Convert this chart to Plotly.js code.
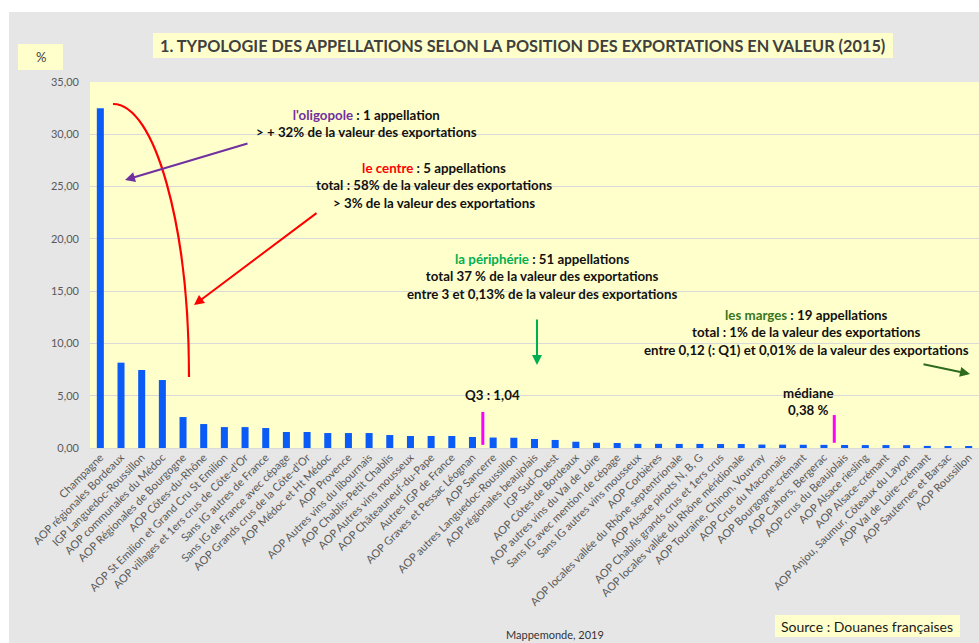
<!DOCTYPE html>
<html>
<head>
<meta charset="utf-8">
<script src="https://cdn.plot.ly/plotly-3.0.1.min.js"></script>
<style>
html,body{margin:0;padding:0;background:#ffffff;overflow:hidden;}
#chart{position:absolute;left:9px;top:12px;width:970px;height:631px;}
</style>
</head>
<body>
<div id="chart"></div>
<script>
// ---- data ----
const categories = [
  "Champagne",
  "AOP régionales Bordeaux",
  "IGP Languedoc-Roussillon",
  "AOP communales du Médoc",
  "AOP Régionales de Bourgogne",
  "AOP Côtes-du-Rhône",
  "AOP St Emilion et Grand Cru St Emilion",
  "AOP villages et 1ers crus de Côte-d'Or",
  "Sans IG autres de France",
  "Sans IG de France avec cépage",
  "AOP Grands crus de la Côte-d'Or",
  "AOP Médoc et Ht Médoc",
  "AOP Provence",
  "AOP Autres vins du libournais",
  "AOP Chablis-Petit Chablis",
  "AOP Autres vins mousseux",
  "AOP Châteauneuf-du-Pape",
  "Autres IGP de France",
  "AOP Graves et Pessac Léognan",
  "AOP Sancerre",
  "AOP autres Languedoc-Roussillon",
  "AOP régionales beaujolais",
  "IGP Sud-Ouest",
  "AOP Côtes de Bordeaux",
  "AOP autres vins du Val de Loire",
  "Sans IG avec mention de cépage",
  "Sans IG autres vins mousseux",
  "AOP Corbières",
  "AOP locales vallée du Rhône septentrionale",
  "AOP Alsace pinots N, B, G",
  "AOP Chablis grands crus et 1ers crus",
  "AOP locales vallée du Rhône méridionale",
  "AOP Touraine, Chinon, Vouvray",
  "AOP Crus du Maconnais",
  "AOP Bourgogne-crémant",
  "AOP Cahors, Bergerac",
  "AOP crus du Beaujolais",
  "AOP Alsace riesling",
  "AOP Alsace-crémant",
  "AOP Anjou, Saumur, Côteaux du Layon",
  "AOP Val de Loire-crémant",
  "AOP Sauternes et Barsac",
  "AOP Roussillon"
];
const values = [
  32.5, 8.16, 7.46, 6.5, 2.96, 2.29, 2.0, 2.0, 1.91, 1.53,
  1.53, 1.43, 1.43, 1.43, 1.24, 1.15, 1.15, 1.15, 1.05, 1.0,
  0.98, 0.86, 0.77, 0.6, 0.5, 0.48, 0.4, 0.4, 0.39, 0.39,
  0.38, 0.38, 0.33, 0.32, 0.31, 0.3, 0.29, 0.28, 0.28, 0.27,
  0.2, 0.19, 0.18
];
const yTicks = [0, 5, 10, 15, 20, 25, 30, 35];
const q3Value = "1,04";
const medianValue = "0,38 %";

// ---- layout helpers (page pixel -> paper fraction) ----
const PL = 90, PR = 979, PT = 82, PB = 448;
function fx(x){ return (x - PL) / (PR - PL); }
function fy(y){ return (PB - y) / (PB - PT); }

const FONT = "Lato, 'Open Sans', sans-serif";

const trace = {
  type: "bar",
  x: categories,
  y: values,
  marker: {color: "#0b5cf6"},
  hoverinfo: "x+y"
};

function box(x0, y0, x1, y1){
  return {type:"rect", xref:"paper", yref:"paper", x0:fx(x0), x1:fx(x1), y0:fy(y1), y1:fy(y0),
          fillcolor:"#ffffcc", line:{width:0}, layer:"above"};
}

// red curve (cubic approx of a quarter ellipse)
const cp = [[113,104],[155,104],[189,226],[189,377]].map(p => fx(p[0]) + "," + fy(p[1]));
const curvePath = "M" + cp[0] + " C" + cp[1] + " " + cp[2] + " " + cp[3];

const shapes = [
  box(153, 33, 893, 58),
  box(18, 44, 63, 70),
  box(775, 615, 960, 637),
  {type:"path", xref:"paper", yref:"paper", path: curvePath, line:{color:"#ff0000", width:2.2}},
  {type:"line", xref:"x", yref:"y", x0:18.5, x1:18.5, y0:0.3, y1:3.45, line:{color:"#ff00ff", width:3}},
  {type:"line", xref:"x", yref:"y", x0:35.5, x1:35.5, y0:0.5, y1:3.15, line:{color:"#ff00ff", width:3}}
];

function txt(x, y, text, size, color, extra){
  return Object.assign({xref:"paper", yref:"paper", x:fx(x), y:fy(y), text:text, showarrow:false,
    xanchor:"center", yanchor:"middle", align:"center",
    font:{family:FONT, size:size, color:color}}, extra || {});
}
function arrow(tx, ty, hx, hy, color){
  return {xref:"paper", yref:"paper", x:fx(hx), y:fy(hy), ax:tx-hx, ay:ty-hy, text:"",
    showarrow:true, arrowhead:2, arrowsize:1, arrowwidth:2, arrowcolor:color};
}

const annotations = [
  txt(522, 46, "<b>1. TYPOLOGIE DES APPELLATIONS SELON LA POSITION DES EXPORTATIONS EN VALEUR (2015)</b>", 16.3, "#404040"),
  txt(41, 57, "%", 13, "#404040"),
  txt(867, 626, "Source : Douanes françaises", 14, "#1a1a1a"),
  txt(555, 634, "Mappemonde, 2019", 11, "#333333"),
  txt(366, 123.5, "<b><span style='color:#7030a0'>l'oligopole</span> : 1 appellation<br>&gt; + 32% de la valeur des exportations</b>", 13.3, "#111111"),
  txt(434, 185, "<b><span style='color:#ff0000'>le centre</span> : 5 appellations<br>total : 58% de la valeur des exportations<br>&gt; 3% de la valeur des exportations</b>", 13.3, "#111111"),
  txt(542, 276, "<b><span style='color:#00b050'>la périphérie</span> : 51 appellations<br>total 37 % de la valeur des exportations<br>entre 3 et 0,13% de la valeur des exportations</b>", 13.3, "#111111"),
  txt(806, 332, "<b><span style='color:#38761d'>les marges</span> : 19 appellations<br>total : 1% de la valeur des exportations<br>entre 0,12 (: Q1) et 0,01% de la valeur des exportations</b>", 13.3, "#111111"),
  txt(492, 395, "<b>Q3 : " + q3Value + "</b>", 13.3, "#111111"),
  txt(808, 401, "<b>médiane<br>" + medianValue + "</b>", 13.3, "#111111"),
  arrow(249, 143, 125, 180, "#7030a0"),
  arrow(318, 212, 194, 305, "#ff0000"),
  arrow(537, 318, 537, 365, "#00b050"),
  arrow(922, 364, 970, 374, "#2e6b1f")
];

const layout = {
  width: 970, height: 631,
  margin: {l: 81, r: 0, t: 70, b: 195, pad: 0},
  paper_bgcolor: "#e6e6e6",
  plot_bgcolor: "#ffffcc",
  separators: ", ",
  showlegend: false,
  bargap: 0.66,
  font: {family: FONT, color: "#595959"},
  xaxis: {
    type: "category",
    tickangle: -45,
    tickfont: {family: FONT, size: 11, color: "#595959"},
    showgrid: false, showline: false, ticks: "", automargin: false
  },
  yaxis: {
    range: [0, 35],
    tickvals: yTicks,
    tickformat: ".2f",
    tickfont: {family: FONT, size: 11, color: "#595959"},
    gridcolor: "#d9d9d9", gridwidth: 1,
    zeroline: true, zerolinecolor: "#d9d9d9", zerolinewidth: 1,
    showline: false, ticks: "", ticklabelstandoff: 10, automargin: false
  },
  shapes: shapes,
  annotations: annotations
};

Plotly.newPlot("chart", [trace], layout, {displayModeBar: false, responsive: false});
</script>
</body>
</html>
